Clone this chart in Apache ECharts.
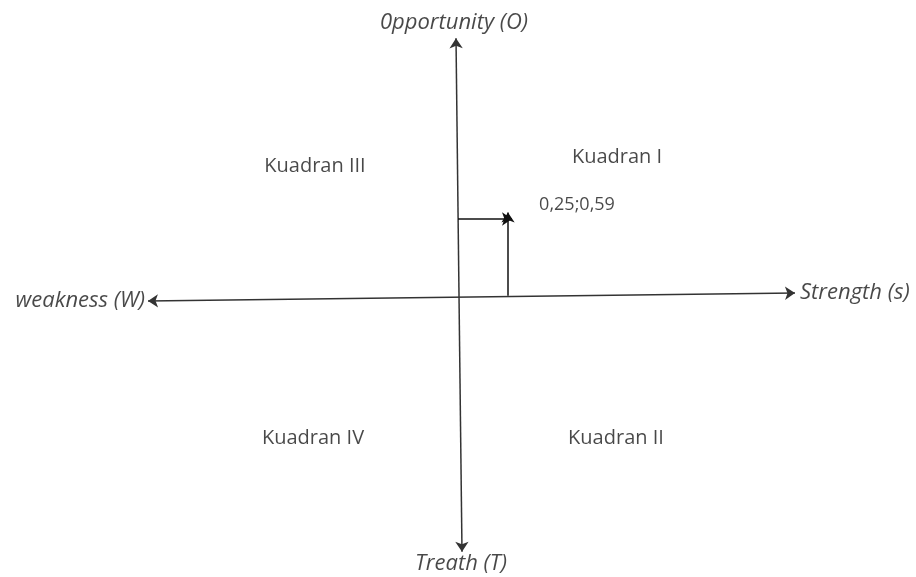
<!DOCTYPE html>
<html><head><meta charset="utf-8">
<script src="https://cdn.jsdelivr.net/npm/echarts@6/dist/echarts.min.js"></script>
<style>html,body{margin:0;padding:0;background:#fff}#c{width:916px;height:577px}</style>
</head><body><div id="c"></div>
<script>
// Result point (Strength-Weakness, Opportunity-Threat)
const pointValue = [0.25, 0.59];
const pointLabel = '0,25;0,59';
// Diagram axes (endpoints in diagram units)
const horizontalAxis = [[-1.55, -0.03], [1.685, 0.03]];
const verticalAxis = [[-0.01, 1.99], [0.02, -1.96]];
// Axis titles: [text, x, y, side]
const axisTitles = [
  ['0pportunity (O)', -0.02, 2.11, 'inside'],
  ['Treath (T)', 0.015, -2.05, 'inside'],
  ['weakness (W)', -1.555, -0.03, 'left'],
  ['Strength (s)', 1.70, 0.03, 'right']
];
// Quadrant labels: [text, x, y]
const quadrants = [
  ['Kuadran I', 0.795, 1.077],
  ['Kuadran III', -0.715, 1.008],
  ['Kuadran IV', -0.725, -1.085],
  ['Kuadran II', 0.79, -1.085]
];

const font = '"Open Sans", sans-serif';
const chart = echarts.init(document.getElementById('c'));
const arrowLine = (coords) => ({coords});
chart.setOption({
  animation: false,
  grid: {left: 0, right: 0, top: 0, bottom: 0},
  xAxis: {type: 'value', min: -2.29, max: 2.29, show: false},
  yAxis: {type: 'value', min: -2.154, max: 2.285, show: false},
  series: [
    {
      type: 'lines', coordinateSystem: 'cartesian2d',
      symbol: ['arrow', 'arrow'], symbolSize: 10,
      lineStyle: {color: '#333', width: 1.5, opacity: 1},
      data: [arrowLine(horizontalAxis), arrowLine(verticalAxis)]
    },
    {
      type: 'lines', coordinateSystem: 'cartesian2d',
      symbol: ['none', 'arrow'], symbolSize: 10,
      lineStyle: {color: '#111', width: 1.5, opacity: 1},
      data: [
        arrowLine([[0, pointValue[1] + 0.01], [pointValue[0] + 0.02, pointValue[1] + 0.01]]),
        arrowLine([[pointValue[0], 0.01], [pointValue[0], pointValue[1] + 0.06]])
      ]
    },
    {
      type: 'scatter', symbolSize: 0, clip: false,
      label: {show: true, position: 'inside', formatter: p => p.data.name,
        color: '#1a1a1a', fontSize: 20, fontFamily: font},
      data: quadrants.map(q => ({name: q[0], value: [q[1], q[2]]}))
        .concat([{name: pointLabel, value: [pointValue[0] + 0.345, pointValue[1] + 0.118],
          label: {fontSize: 18}}])
    },
    {
      type: 'scatter', symbolSize: 0, clip: false,
      label: {show: true, formatter: p => p.data.name,
        color: '#1a1a1a', fontSize: 22, fontStyle: 'italic', fontFamily: font, distance: 2},
      data: axisTitles.map(t => ({name: t[0], value: [t[1], t[2]], label: {position: t[3]}}))
    }
  ]
});
</script></body></html>
